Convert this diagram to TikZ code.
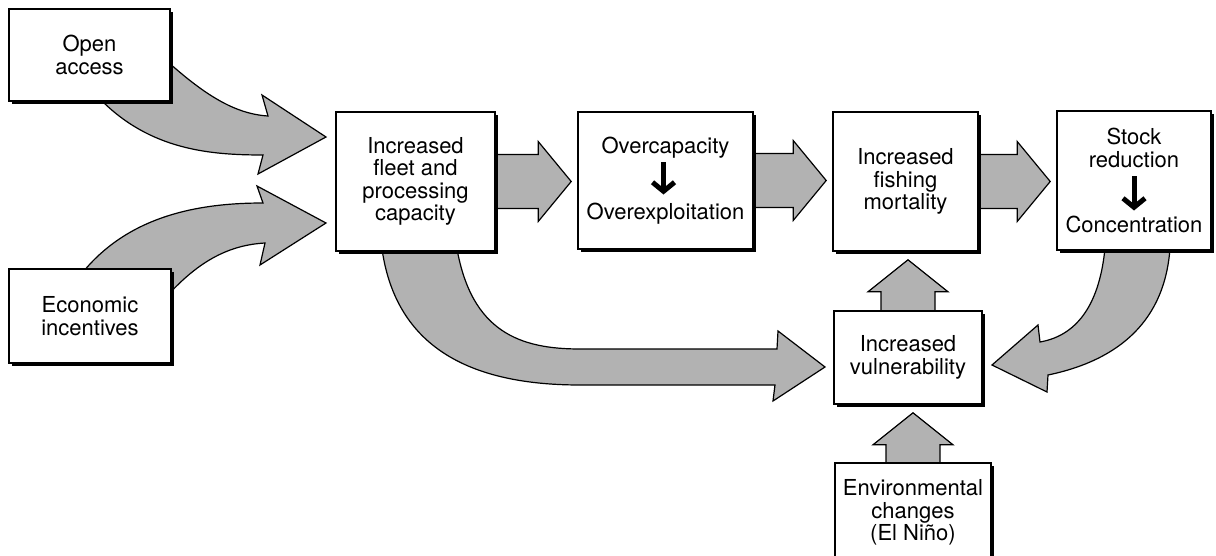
\documentclass[tikz,border=0pt]{standalone}
\usepackage{fontspec}
\setmainfont{TeX Gyre Heros}
\usetikzlibrary{calc,shadows,arrows.meta,backgrounds}

\tikzset{
	box/.style={draw, fill=white, line width=0.8pt, align=center, inner sep=0pt,
		font=\fontsize{11}{11.2}\selectfont,
		drop shadow={shadow xshift=1.3pt, shadow yshift=-1.3pt, fill=black, opacity=1}},
	fat/.style={draw, fill=black!30, line width=0.6pt, line join=miter},
	turn/.style={line width=2.5pt, -{Straight Barb[length=4.5pt, width=11pt]}}
}

% straight block arrows between boxes
\newcommand{\fatright}[2]{%
	\path (#1.east) coordinate (s) ($(#2.west)+(-6,0)$) coordinate (t);
	\draw [fat] ($(s)+(-3,-27)$) -- ($(t|-s)+(-33,-27)$) -- ($(t|-s)+(-33,-40)$) -- (t|-s)
		-- ($(t|-s)+(-33,40)$) -- ($(t|-s)+(-33,27)$) -- ($(s)+(-3,27)$) -- cycle;
}
\newcommand{\fatup}[2]{%
	\path (#1.north) coordinate (s) ($(#2.south)+(0,8)$) coordinate (t);
	\draw [fat] ($(s)+(-27,3)$) -- ($(s|-t)+(-27,32)$) -- ($(s|-t)+(-40,32)$) -- (s|-t)
		-- ($(s|-t)+(40,32)$) -- ($(s|-t)+(27,32)$) -- ($(s)+(27,3)$) -- cycle;
}

\begin{document}
\begin{tikzpicture}[x=0.5pt, y=-0.5pt]
	\useasboundingbox (0,0) rectangle (1216,556);

	\node [box, minimum width=80.5pt, minimum height=46pt] (open) at (89.5,55) {Open\\access};
	\node [box, minimum width=81pt, minimum height=47pt] (incentive) at (90,316) {Economic\\incentives};
	\node [box, minimum width=79.5pt, minimum height=69.5pt] (fleet) at (415.5,181.5) {Increased\\fleet and\\processing\\capacity};
	\node [box, minimum width=87.5pt, minimum height=68.5pt] (overcap) at (665.5,180.5) {Overcapacity\\[21.5pt]Overexploitation};
	\node [box, minimum width=72.5pt, minimum height=69.5pt] (mortality) at (905.5,181.5) {Increased\\fishing\\mortality};
	\node [box, minimum width=77pt, minimum height=69.5pt] (stock) at (1134,180.5) {Stock\\reduction\\[21.5pt]Concentration};
	\node [box, minimum width=74pt, minimum height=46.5pt] (vuln) at (908,357.5) {Increased\\vulnerability};
	\node [box, minimum width=78pt, minimum height=49.5pt] (enviro) at (913,512.5) {Environmental\\changes\\(El Niño)};

	\draw [turn] ($(overcap.center)+(-2,-18)$) -- ($(overcap.center)+(-2,14)$);
	\draw [turn] ($(stock.center)+(0,-4)$) -- ($(stock.center)+(0,30)$);

	\begin{pgfonlayer}{background}
	\fatright{fleet}{overcap}
	\fatright{overcap}{mortality}
	\fatright{mortality}{stock}
	\fatup{vuln}{mortality}
	\fatup{enviro}{vuln}

	% curved ones
	\draw [fat] (168,62) .. controls (205,95) and (235,114) .. (268,116) -- (262,95) -- (326,137) -- (258,174)
		-- (263,155) .. controls (210,155) and (150,150) .. (100,99) -- cycle;
	\draw [fat] (83,272) .. controls (130,215) and (200,203) .. (263,203) -- (257,186) -- (326,223) -- (260,265)
		-- (265,243) .. controls (230,245) and (200,260) .. (168,295) -- cycle;
	\draw [fat] (382,249) .. controls (395,340) and (460,385) .. (580,385) -- (775,385) -- (773,401) -- (825,367)
		-- (778,331) -- (777,349) -- (580,349) .. controls (520,349) and (472,332) .. (457,249) -- cycle;
	\draw [fat] (1105,248) .. controls (1100,300) and (1080,335) .. (1040,342) -- (1038,325) -- (992,365)
		-- (1047,392) -- (1048,375) .. controls (1120,360) and (1165,320) .. (1170,248) -- cycle;
	\end{pgfonlayer}
\end{tikzpicture}
\end{document}
